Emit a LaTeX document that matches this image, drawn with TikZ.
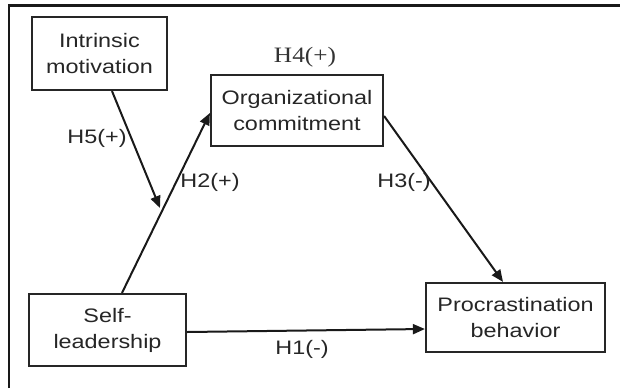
\documentclass[tikz,border=0pt]{standalone}
\usepackage{fontspec}
\usetikzlibrary{arrows.meta}
\newfontfamily\labfont{Liberation Sans}[FakeStretch=1.2]
\newfontfamily\serfont{Liberation Serif}[FakeStretch=1.15]
\begin{document}
\begin{tikzpicture}[x=1pt,y=-1pt,
  box/.style={draw=black!85,line width=2.2pt,inner sep=0pt,align=center,
    font=\labfont\fontsize{19.5}{26}\selectfont,text=black!85},
  conn/.style={line width=2pt,draw=black!90,-{Triangle[length=12pt,width=10pt]}},
  lab/.style={font=\labfont\fontsize{19.5}{22}\selectfont,text=black!85,inner sep=0pt}]
\useasboundingbox (0,0) rectangle (620,388);
\fill[white] (0,0) rectangle (620,388);
\draw[line width=2.2pt,black!90] (9,388) -- (9,5.5) -- (620,5.5);
\node[box,minimum width=135pt,minimum height=73pt] (intr) at (99.5,53.5) {Intrinsic\\motivation};
\node[box,minimum width=172pt,minimum height=71pt] (org) at (297,110.5) {Organizational\\commitment};
\node[box,minimum width=157pt,minimum height=72pt] (self) at (107.5,330) {Self-\\leadership};
\node[box,minimum width=179pt,minimum height=69pt] (proc) at (515.5,317.5) {Procrastination\\behavior};
\coordinate (h5end) at (160,208);
\draw[conn] ([xshift=12.5pt]intr.south) -- (h5end);
\draw[conn] ([xshift=14.5pt]self.north) -- ([yshift=-2.5pt]org.west);
\draw[conn] ([yshift=-5.5pt]org.east) -- ([xshift=-12.5pt]proc.north);
\draw[conn] ([yshift=-2pt]self.east) -- ([yshift=-11.5pt]proc.west);
\node[lab] (l5) at (97,138) {H5(+)};
\node[lab] (l2) at (210,182) {H2(+)};
\node[lab] (l3) at (404,182) {H3(-)};
\node[lab] (l1) at (302,349) {H1(-)};
\node[font=\serfont\fontsize{22}{26}\selectfont,text=black!80,inner sep=0pt] (l4) at (305,57) {H4(+)};
\end{tikzpicture}
\end{document}
